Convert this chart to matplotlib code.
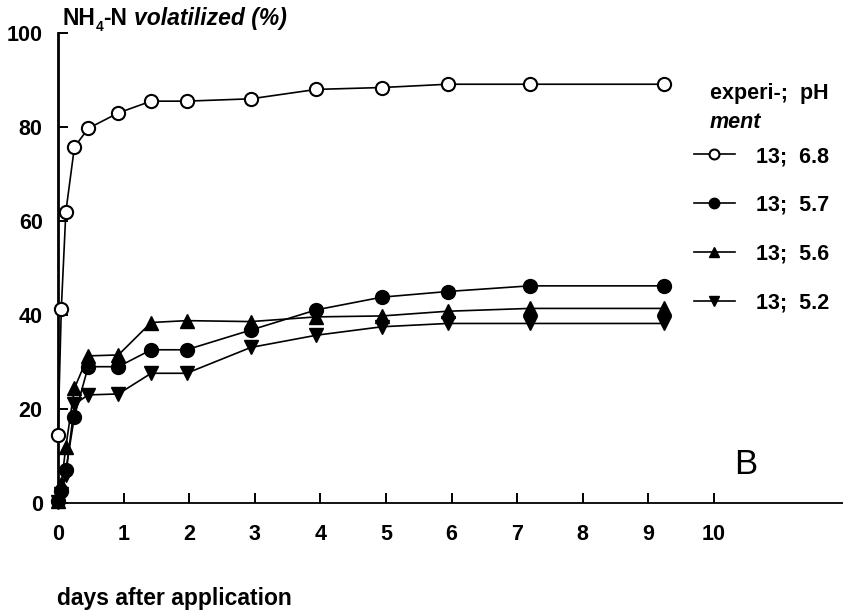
import numpy as np
import matplotlib
matplotlib.use("Agg")
import matplotlib.pyplot as plt

plt.rcParams['font.family'] = ['Liberation Sans', 'DejaVu Sans']

# sampling times (days) and NH4-N volatilized (%) per soil pH
days = [0.0, 0.05, 0.12, 0.25, 0.46, 0.92, 1.42, 1.96, 2.94, 3.94, 4.94, 5.94, 7.19, 9.24]
ph68 = [14.5, 41.2, 62.0, 75.7, 79.7, 83.0, 85.5, 85.5, 86.0, 88.0, 88.4, 89.1, 89.1, 89.1]
ph57 = [0.5, 2.5, 7.0, 18.4, 29.0, 29.0, 32.6, 32.6, 36.8, 41.1, 43.8, 45.0, 46.2, 46.2]
ph56 = [0.5, 4.0, 12.0, 24.4, 31.3, 31.5, 38.4, 38.8, 38.6, 39.6, 39.8, 40.8, 41.4, 41.4]
ph52 = [0.3, 2.0, 6.0, 21.0, 23.0, 23.2, 27.6, 27.6, 33.1, 35.7, 37.5, 38.2, 38.2, 38.2]

labels = ['13;  6.8', '13;  5.7', '13;  5.6', '13;  5.2']
xticks = list(range(0, 11))
yticks = [0, 20, 40, 60, 80, 100]

FS = 15.5      # tick labels and legend
FT = 16.5      # axis titles
W, H = 843, 611
fig = plt.figure(figsize=(W / 100, H / 100), dpi=100)
ax = fig.add_axes([58 / W, 108 / H, (W - 58) / W, 470 / H])

common = dict(color='black', lw=1.2, clip_on=False, zorder=3)
l1, = ax.plot(days, ph68, marker='o', ms=9.5, mfc='white', mec='black', mew=1.5, **common)
l2, = ax.plot(days, ph57, marker='o', ms=10, mfc='black', mec='black', **common)
l3, = ax.plot(days, ph56, marker='^', ms=10, mfc='black', mec='black', **common)
l4, = ax.plot(days, ph52, marker='v', ms=10, mfc='black', mec='black', **common)

ax.set_xlim(0, (W - 58) / 65.6)
ax.set_ylim(0, 100)
ax.set_xticks(xticks)
ax.set_yticks(yticks)
ax.tick_params(direction='in', length=7, width=1.4, labelsize=FS)
ax.tick_params(axis='x', pad=15)
ax.tick_params(axis='y', pad=11)
for lab in ax.get_xticklabels() + ax.get_yticklabels():
    lab.set_fontweight('bold')

for s in ['top', 'right']:
    ax.spines[s].set_visible(False)
ax.spines['left'].set_linewidth(2.0)
ax.spines['bottom'].set_linewidth(1.3)

# y axis title: NH4-N volatilized (%), built piece by piece for the subscript
t1 = fig.text(62 / W, 1 - 30 / H, 'NH', fontsize=FT, fontweight='bold',
              va='bottom', ha='left')
t2 = ax.annotate('4', xy=(1, 0), xycoords=t1, xytext=(0.3, -3),
                 textcoords='offset points', fontsize=FT * 0.6,
                 fontweight='bold', va='bottom', ha='left')
t3 = ax.annotate('-N', xy=(1, 0), xycoords=(t2, t1), xytext=(0.3, 0),
                 textcoords='offset points', fontsize=FT, fontweight='bold',
                 va='bottom', ha='left')
ax.annotate('volatilized (%)', xy=(1, 0), xycoords=t3, xytext=(5, 0),
            textcoords='offset points', fontsize=FT, fontweight='bold',
            style='italic', va='bottom', ha='left')
fig.text(57 / W, 1 - 598 / H, 'days after application', fontsize=FT,
         fontweight='bold', va='center', ha='left')

# legend with header
fig.text(710 / W, 1 - 94 / H, 'experi-;  pH', fontsize=FS, fontweight='bold',
         va='center', ha='left')
fig.text(710 / W, 1 - 123 / H, 'ment', fontsize=FS, fontweight='bold',
         style='italic', va='center', ha='left')
leg = fig.legend([l1, l2, l3, l4], labels, loc='upper left',
                 bbox_to_anchor=(694 / W, 1 - 146 / H), frameon=False,
                 fontsize=FS, handlelength=1.9, handletextpad=1.0,
                 labelspacing=1.29, borderpad=0, borderaxespad=0,
                 markerscale=0.75)
for txt in leg.get_texts():
    txt.set_fontweight('bold')

fig.text(746 / W, 1 - 465 / H, 'B', fontsize=25, va='center', ha='center')

fig.savefig('out.png', dpi=100)
